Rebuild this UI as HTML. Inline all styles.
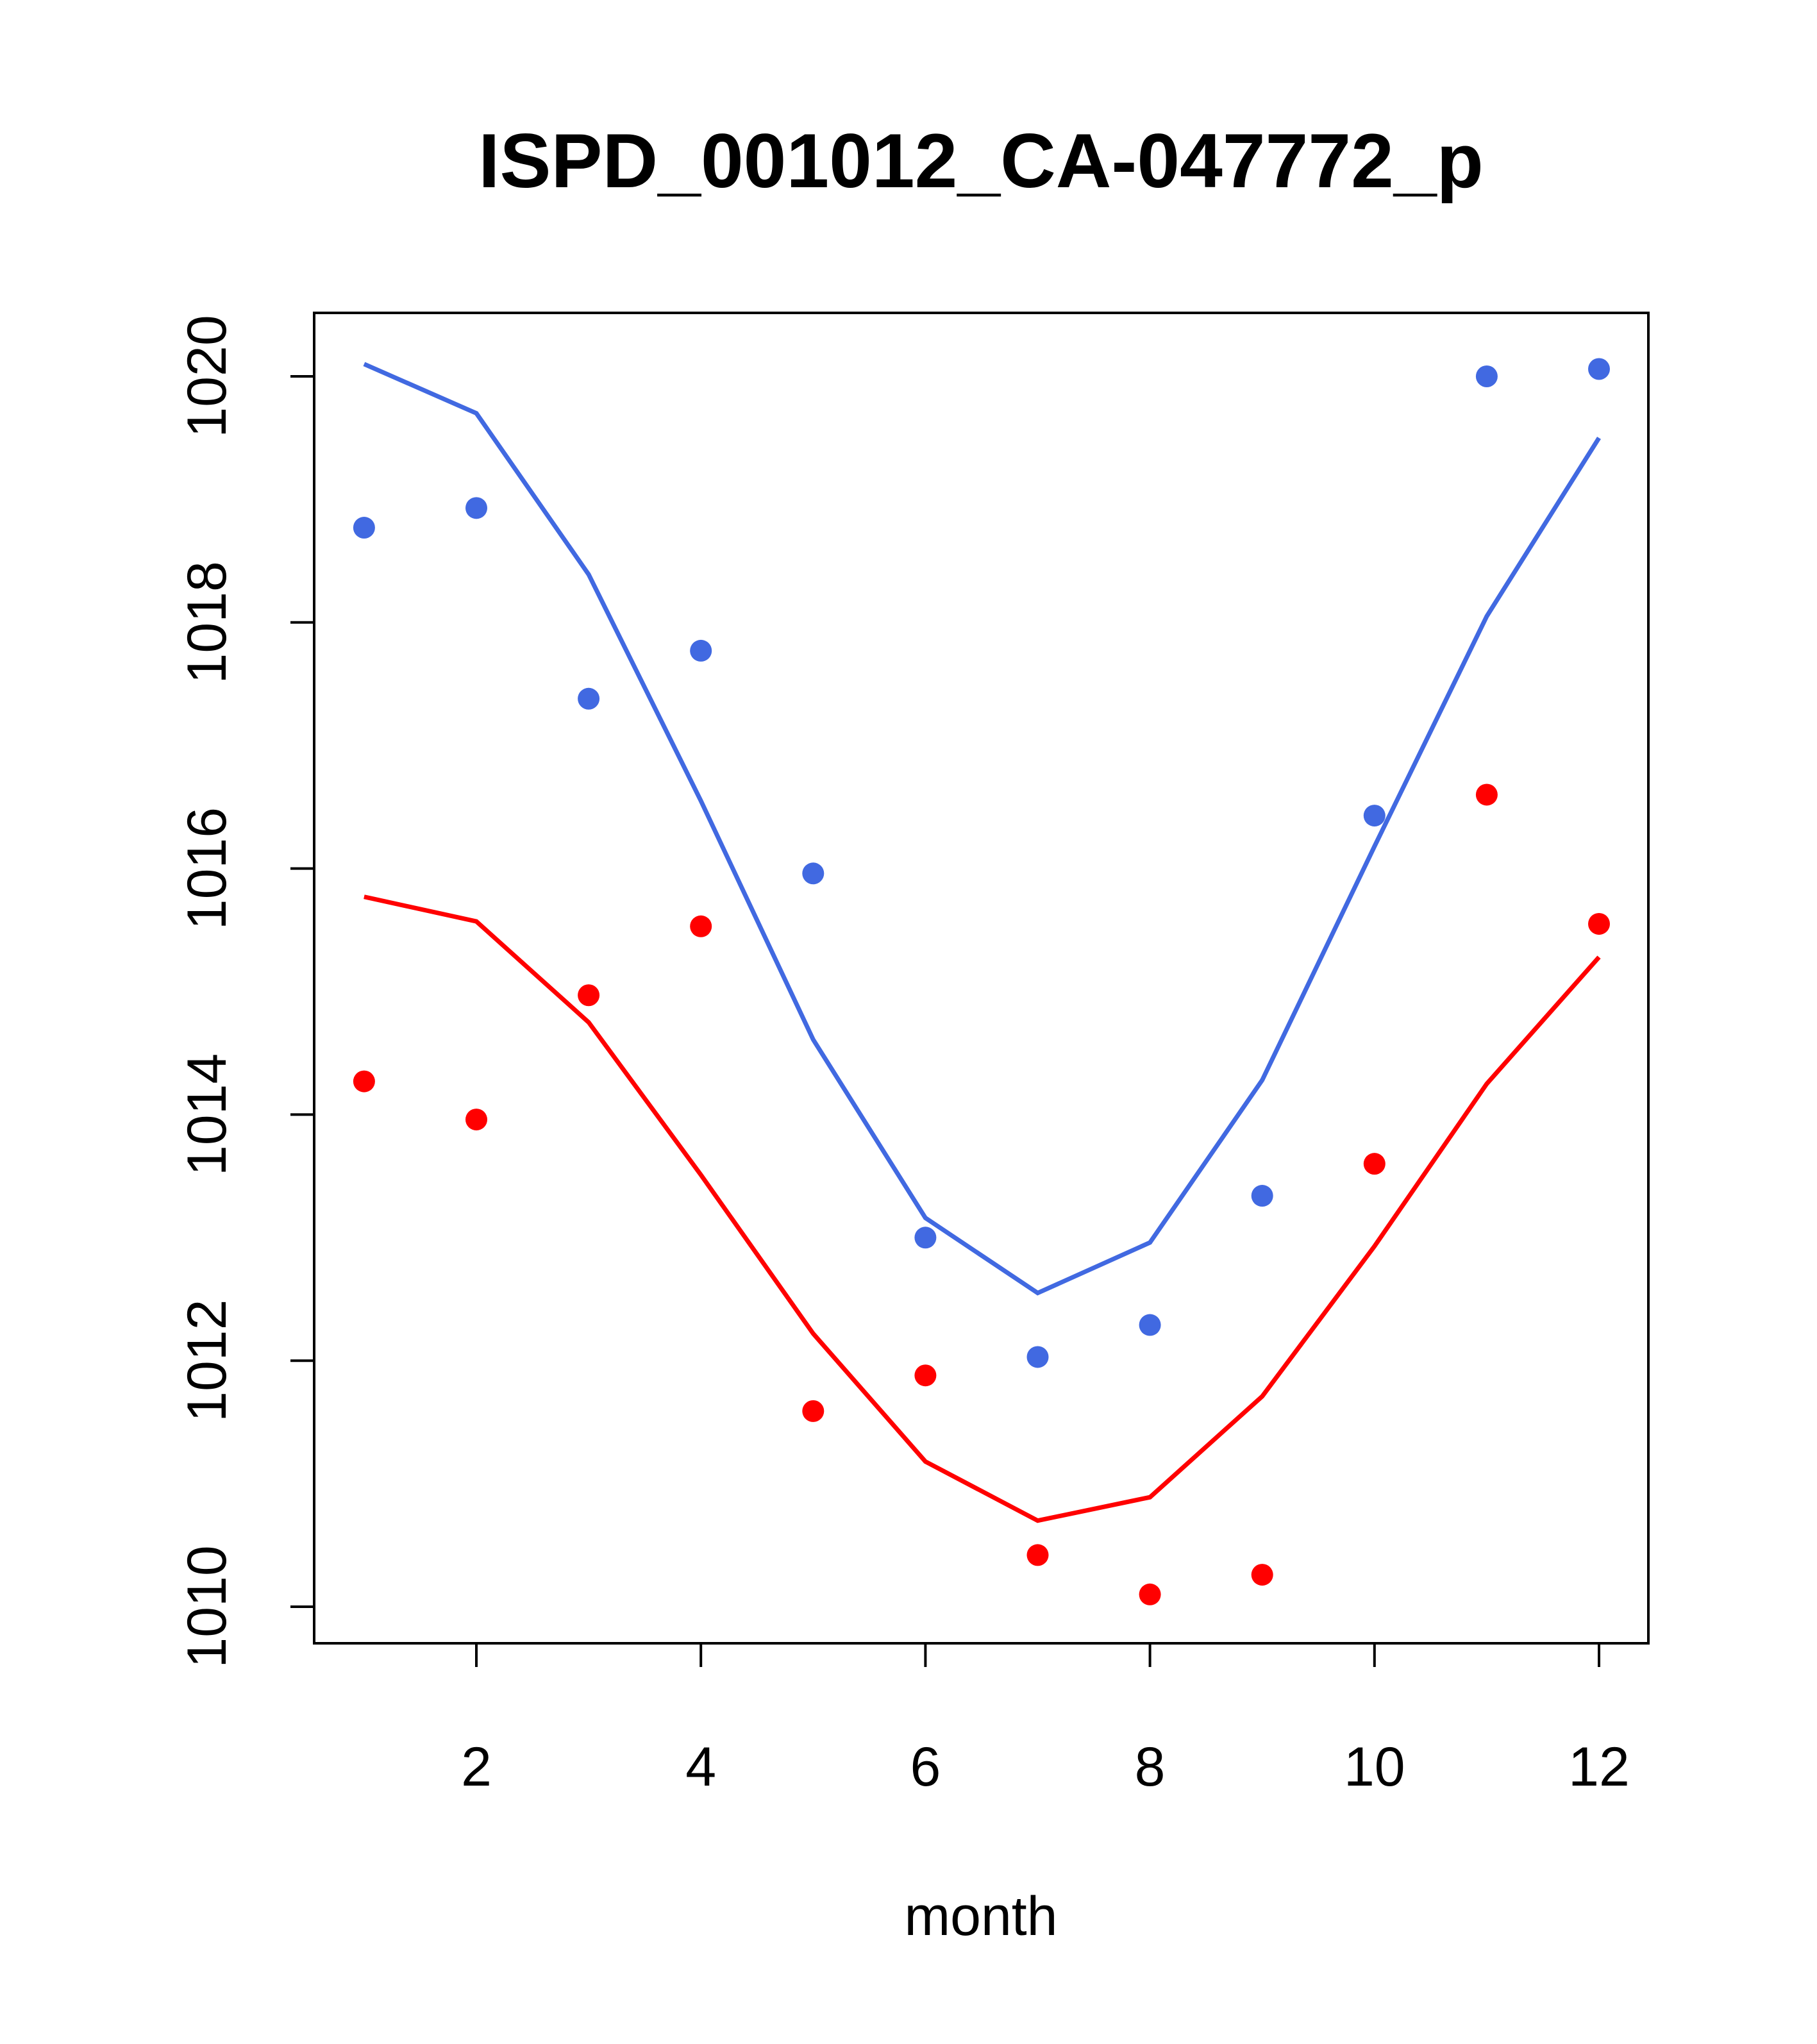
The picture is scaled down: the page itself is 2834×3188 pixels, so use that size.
<!DOCTYPE html>
<html><head><meta charset="utf-8"><style>
html,body{margin:0;padding:0;background:#fff;}
svg{display:block;font-family:"Liberation Sans",sans-serif;}
</style></head><body>
<svg id="chart" width="2834" height="3188" viewBox="0 0 2834 3188" xmlns="http://www.w3.org/2000/svg">
<text x="1530" y="292" font-size="120" font-weight="bold" text-anchor="middle">ISPD_001012_CA-047772_p</text>
<rect x="490" y="488" width="2081" height="2075" fill="none" stroke="#000" stroke-width="4"/>
<g id="axes"></g>
<g id="series"></g>
<text x="1530" y="3018" font-size="86" text-anchor="middle">month</text>
</svg>
<script>
const months=[1,2,3,4,5,6,7,8,9,10,11,12];
const blueLine=[1020.1,1019.7,1018.39,1016.55,1014.61,1013.16,1012.55,1012.96,1014.28,1016.18,1018.05,1019.5];
const bluePoints=[1018.77,1018.93,1017.38,1017.77,1015.96,1013.0,1012.03,1012.29,1013.34,1016.43,1020.0,1020.06];
const redLine=[1015.77,1015.57,1014.75,1013.51,1012.22,1011.18,1010.7,1010.89,1011.71,1012.93,1014.25,1015.28];
const redPoints=[1014.27,1013.96,1014.97,1015.53,1011.59,1011.88,1010.42,1010.1,1010.26,1013.6,1016.6,1015.55];
const xTicks=[2,4,6,8,10,12];
const yTicks=[1010,1012,1014,1016,1018,1020];
const NS="http://www.w3.org/2000/svg";
function xs(m){return 743+(m-2)*175.1;}
function ys(v){return 2506-(v-1010)*191.9;}
function mk(t,a,p){const e=document.createElementNS(NS,t);for(const k in a)e.setAttribute(k,a[k]);p.appendChild(e);return e;}
const ax=document.getElementById('axes');
xTicks.forEach(t=>{
  const l=mk('line',{x1:xs(t),x2:xs(t),y1:2563,y2:2600,stroke:'#000','stroke-width':4},ax);
  
  
  const tx=mk('text',{x:xs(t),y:2785,'font-size':86,'text-anchor':'middle'},ax);
  tx.textContent=t;
  
  
});
yTicks.forEach(t=>{
  const l=mk('line',{x1:453,x2:490,y1:ys(t),y2:ys(t),stroke:'#000','stroke-width':4},ax);
  
  
  const tx=mk('text',{x:0,y:0,'font-size':86,'text-anchor':'middle',transform:`translate(352,${ys(t)}) rotate(-90)`},ax);
  tx.textContent=t;
  
  
});
const sg=document.getElementById('series');
function line(vals,col,name){
  const p=mk('polyline',{points:vals.map((v,i)=>xs(months[i])+','+ys(v)).join(' '),fill:'none',stroke:col,'stroke-width':7},sg);
  
  
}
function pts(vals,col,name){
  vals.forEach((v,i)=>{
    const c=mk('circle',{cx:xs(months[i]),cy:ys(v),r:17,fill:col},sg);
    
    
  });
}
line(blueLine,'#4169E1','blue-line');
line(redLine,'#FF0000','red-line');
pts(bluePoints,'#4169E1','blue-point');
pts(redPoints,'#FF0000','red-point');
</script>
</body></html>
